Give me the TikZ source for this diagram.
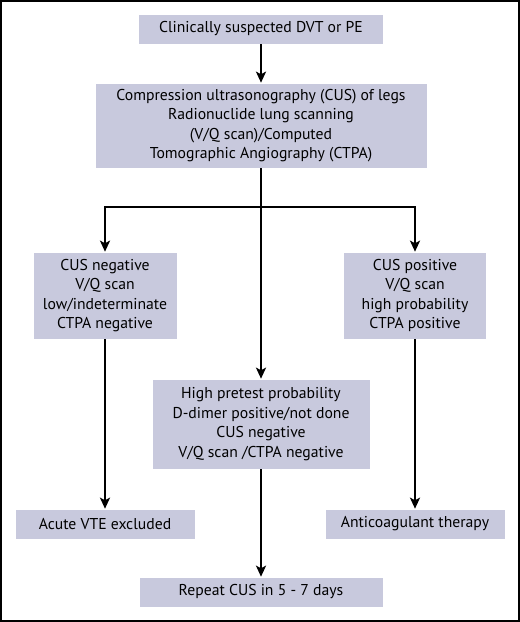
\documentclass[tikz,border=0pt]{standalone}
\usepackage{fontspec}
\setmainfont{PT Sans}
\usetikzlibrary{arrows.meta}
\definecolor{boxfill}{RGB}{200,201,221}
\begin{document}
\begin{tikzpicture}[x=1bp,y=-1bp,
  box/.style={fill=boxfill,draw=white,line width=0.6bp,align=center,inner sep=0pt,
    font=\fontsize{15.7bp}{19.5bp}\selectfont},
  arr/.style={line width=2bp,-{Stealth[length=11bp,width=10bp,inset=2.5bp]}},
  conn/.style={line width=2bp}]
\useasboundingbox (0,0) rectangle (520,622);
\draw[line width=2bp] (1,1) rectangle (519,621);
\node[box,minimum width=245bp,minimum height=30bp] (top) at (261,29) {Clinically suspected DVT or PE};
\node[box,minimum width=332bp,minimum height=85bp] (scan) at (261,125.5) {Compression ultrasonography (CUS) of legs\\Radionuclide lung scanning\\(V/Q scan)/Computed\\Tomographic Angiography (CTPA)};
\node[box,minimum width=144bp,minimum height=87bp] (neg) at (105,295.5) {CUS negative\\V/Q scan\\low/indeterminate\\CTPA negative};
\node[box,minimum width=143bp,minimum height=87bp] (pos) at (415,295.5) {CUS positive\\V/Q scan\\high probability\\CTPA positive};
\node[box,minimum width=218bp,minimum height=90bp] (mid) at (261,424) {High pretest probability\\D-dimer positive/not done\\CUS negative\\V/Q scan /CTPA negative};
\node[box,minimum width=180bp,minimum height=30bp] (excl) at (105,524) {Acute VTE excluded};
\node[box,minimum width=180bp,minimum height=30bp] (anti) at (415,524) {Anticoagulant therapy};
\node[box,minimum width=244bp,minimum height=30bp] (rep) at (261,592) {Repeat CUS in 5 - 7 days};
\coordinate (split) at (261,207);
\draw[arr] (top) -- (scan);
\draw[arr] (scan) -- (mid);
\draw[arr] (split) -| (neg.north);
\draw[arr] (split) -| (pos.north);
\draw[arr] (neg) -- (excl);
\draw[arr] (pos) -- (anti);
\draw[arr] (mid) -- (rep);
\end{tikzpicture}
\end{document}
